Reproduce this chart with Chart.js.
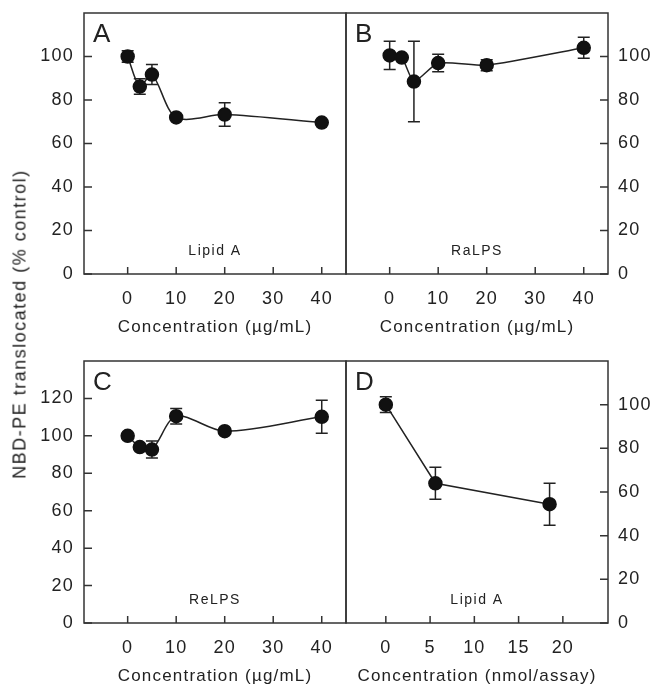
<!DOCTYPE html>
<html>
<head>
<meta charset="utf-8">
<script src="https://cdn.jsdelivr.net/npm/chart.js@4.4.1/dist/chart.umd.min.js"></script>
<style>
  body { margin: 0; background: #fff; }
  #wrap { position: relative; width: 651px; height: 687px; overflow: hidden; background: #fff; }
  #wrap canvas { position: absolute; }
  #ytitle {
    position: absolute; left: 20px; top: 324px;
    transform: translate(-50%, -50%) rotate(-90deg);
    white-space: nowrap; color: #222;
    font: 18px 'Liberation Sans', Arial, sans-serif; letter-spacing: 1.5px;
  }
</style>
</head>
<body>
<div id="wrap">
  <canvas id="chartA" width="347" height="340" style="left:0;top:0"></canvas>
  <canvas id="chartB" width="311" height="340" style="left:340px;top:0"></canvas>
  <canvas id="chartC" width="347" height="347" style="left:0;top:340px"></canvas>
  <canvas id="chartD" width="311" height="347" style="left:340px;top:340px"></canvas>
  <div id="ytitle">NBD-PE translocated (% control)</div>
</div>
<script>
// values
var concUg = [0, 2.5, 5, 10, 20, 40];

var lipidA = [100, 86.2, 91.7, 72, 73.3, 69.6];
var lipidAErr = [2.6, 3.6, 4.6, 0, 5.4, 0];

var raLPS = [100.5, 99.5, 88.5, 97, 96, 104];
var raLPSErr = [6.5, 0, 18.5, 4, 2.5, 4.8];

var reLPS = [100, 94, 92.7, 110.5, 102.5, 110.2];
var reLPSErr = [0, 0, 4.5, 4.1, 0, 8.8];

var concNmol = [0, 5.6, 18.5];
var lipidANmol = [100, 64, 54.4];
var lipidANmolErr = [3.6, 7.3, 9.6];

var ticksUg = [0, 10, 20, 30, 40];
var ticksNmol = [0, 5, 10, 15, 20];
var ticksY100 = [0, 20, 40, 60, 80, 100];
var ticksY120 = [0, 20, 40, 60, 80, 100, 120];

var FONT = "'Liberation Sans', Arial, sans-serif";
var INK = '#222';

var panelPlugin = {
  id: 'panel',
  beforeDraw: function(chart) {
    chart.ctx.letterSpacing = '1.2px';
  },
  beforeDatasetsDraw: function(chart, args, opts) {
    var ctx = chart.ctx, xs = chart.scales.x, ys = chart.scales.y;
    var pts = chart.data.datasets[0].data;
    ctx.save();
    ctx.strokeStyle = INK;
    ctx.lineWidth = 1.5;
    pts.forEach(function(p, i) {
      var e = opts.err[i];
      if (!e) return;
      var x = xs.getPixelForValue(p.x);
      var y1 = ys.getPixelForValue(p.y + e);
      var y2 = ys.getPixelForValue(p.y - e);
      ctx.beginPath();
      ctx.moveTo(x, y1); ctx.lineTo(x, y2);
      ctx.moveTo(x - 6, y1); ctx.lineTo(x + 6, y1);
      ctx.moveTo(x - 6, y2); ctx.lineTo(x + 6, y2);
      ctx.stroke();
    });
    ctx.restore();
  },
  afterDraw: function(chart, args, opts) {
    var ctx = chart.ctx, a = chart.chartArea, xs = chart.scales.x, ys = chart.scales.y;
    ctx.save();
    ctx.strokeStyle = '#333';
    ctx.lineWidth = 1.5;
    ctx.strokeRect(a.left, a.top, a.right - a.left, a.bottom - a.top);
    ctx.beginPath();
    xs.ticks.forEach(function(t) {
      var x = xs.getPixelForValue(t.value);
      ctx.moveTo(x, a.bottom); ctx.lineTo(x, a.bottom - 7);
    });
    ys.ticks.forEach(function(t) {
      var y = ys.getPixelForValue(t.value);
      if (opts.right) { ctx.moveTo(a.right, y); ctx.lineTo(a.right - 8, y); }
      else { ctx.moveTo(a.left, y); ctx.lineTo(a.left + 8, y); }
    });
    ctx.stroke();

    ctx.fillStyle = INK;
    ctx.letterSpacing = '0px';
    ctx.font = '26px ' + FONT;
    ctx.textAlign = 'left';
    ctx.textBaseline = 'alphabetic';
    ctx.fillText(opts.letter, a.left + 9, a.top + 29);

    ctx.letterSpacing = '1.5px';
    ctx.font = '14px ' + FONT;
    ctx.textAlign = 'center';
    ctx.fillText(opts.label, (a.left + a.right) / 2, a.bottom - 19);
    ctx.restore();
  }
};

function points(xs, ys) {
  return xs.map(function(x, i) { return {x: x, y: ys[i]}; });
}

function noPadding(s) {
  s.paddingTop = 0; s.paddingBottom = 0;
  s.paddingLeft = 0; s.paddingRight = 0;
}

function makePanel(id, p) {
  var ctx = document.getElementById(id).getContext('2d');
  return new Chart(ctx, {
    type: 'line',
    data: {
      datasets: [{
        data: points(p.x, p.y),
        borderColor: INK,
        borderWidth: 1.5,
        backgroundColor: '#111',
        pointBackgroundColor: '#111',
        pointBorderColor: '#111',
        pointRadius: 6.5,
        tension: p.tension,
        fill: false
      }]
    },
    options: {
      responsive: false,
      animation: false,
      layout: {padding: p.padding, autoPadding: false},
      plugins: {
        legend: {display: false},
        tooltip: {enabled: false},
        panel: {letter: p.letter, label: p.label, err: p.err, right: p.yPos === 'right'}
      },
      scales: {
        x: {
          type: 'linear',
          position: 'bottom',
          min: p.xMin, max: p.xMax,
          afterBuildTicks: function(s) { s.ticks = p.xTicks.map(function(v) { return {value: v}; }); },
          afterFit: function(s) { s.height = p.xHeight; noPadding(s); },
          grid: {display: false, drawTicks: false},
          border: {display: false},
          ticks: {color: INK, font: {family: FONT, size: 18}, padding: 14, maxRotation: 0, autoSkip: false},
          title: {display: true, text: p.xTitle, color: INK, font: {family: FONT, size: 17}, padding: {top: 0, bottom: p.titlePad}}
        },
        y: {
          type: 'linear',
          position: p.yPos,
          min: 0, max: p.yMax,
          afterBuildTicks: function(s) { s.ticks = p.yTicks.map(function(v) { return {value: v}; }); },
          afterFit: function(s) { s.width = p.yWidth; noPadding(s); },
          grid: {display: false, drawTicks: false},
          border: {display: false},
          ticks: {color: INK, font: {family: FONT, size: 18}, padding: 10}
        }
      }
    },
    plugins: [panelPlugin]
  });
}

makePanel('chartA', {
  x: concUg, y: lipidA, err: lipidAErr, tension: 0.3,
  letter: 'A', label: 'Lipid A',
  xMin: -9, xMax: 45, xTicks: ticksUg, xHeight: 66, titlePad: 2,
  xTitle: 'Concentration (\u00b5g/mL)',
  yMax: 120, yTicks: ticksY100, yPos: 'left', yWidth: 84,
  padding: {top: 13, right: 1, left: 0, bottom: 0}
});

makePanel('chartB', {
  x: concUg, y: raLPS, err: raLPSErr, tension: 0.2,
  letter: 'B', label: 'RaLPS',
  xMin: -9, xMax: 45, xTicks: ticksUg, xHeight: 66, titlePad: 2,
  xTitle: 'Concentration (\u00b5g/mL)',
  yMax: 120, yTicks: ticksY100, yPos: 'right', yWidth: 43,
  padding: {top: 13, right: 0, left: 6, bottom: 0}
});

makePanel('chartC', {
  x: concUg, y: reLPS, err: reLPSErr, tension: 0.3,
  letter: 'C', label: 'ReLPS',
  xMin: -9, xMax: 45, xTicks: ticksUg, xHeight: 64, titlePad: 0,
  xTitle: 'Concentration (\u00b5g/mL)',
  yMax: 140, yTicks: ticksY120, yPos: 'left', yWidth: 84,
  padding: {top: 21, right: 1, left: 0, bottom: 0}
});

makePanel('chartD', {
  x: concNmol, y: lipidANmol, err: lipidANmolErr, tension: 0,
  letter: 'D', label: 'Lipid A',
  xMin: -4.5, xMax: 25.1, xTicks: ticksNmol, xHeight: 64, titlePad: 0,
  xTitle: 'Concentration (nmol/assay)',
  yMax: 120, yTicks: ticksY100, yPos: 'right', yWidth: 43,
  padding: {top: 21, right: 0, left: 6, bottom: 0}
});
</script>
</body>
</html>
